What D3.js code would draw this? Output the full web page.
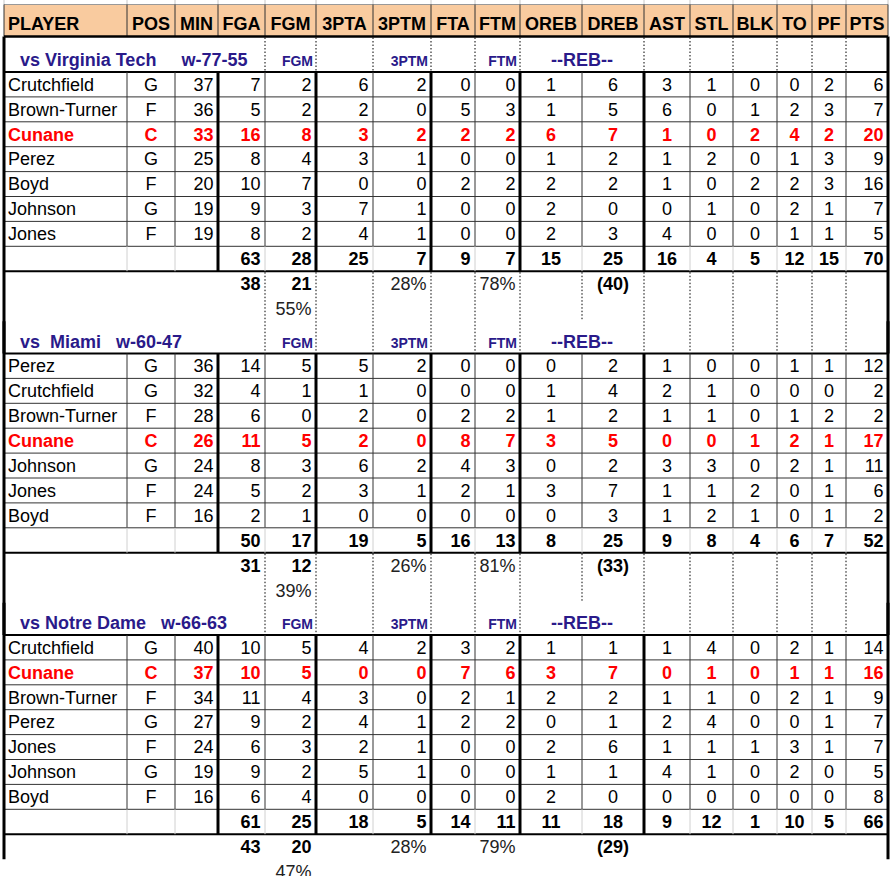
<!DOCTYPE html>
<html>
<head>
<meta charset="utf-8">
<script src="https://cdn.jsdelivr.net/npm/d3@7"></script>
<style>
  body { margin: 0; background: #fff; }
  svg text { font-family: "Liberation Sans", Arial, sans-serif; white-space: pre; }
</style>
</head>
<body>
<div class="container"></div>
<script>
const columns = ["PLAYER", "POS", "MIN", "FGA", "FGM", "3PTA", "3PTM", "FTA", "FTM",
  "OREB", "DREB", "AST", "STL", "BLK", "TO", "PF", "PTS"];
const gameTitles = ["vs Virginia Tech     w-77-55", "vs  Miami   w-60-47", "vs Notre Dame   w-66-63"];
const highlight = "Cunane";

const vtRows = [
  ["Crutchfield", "G", 37, 7, 2, 6, 2, 0, 0, 1, 6, 3, 1, 0, 0, 2, 6],
  ["Brown-Turner", "F", 36, 5, 2, 2, 0, 5, 3, 1, 5, 6, 0, 1, 2, 3, 7],
  ["Cunane", "C", 33, 16, 8, 3, 2, 2, 2, 6, 7, 1, 0, 2, 4, 2, 20],
  ["Perez", "G", 25, 8, 4, 3, 1, 0, 0, 1, 2, 1, 2, 0, 1, 3, 9],
  ["Boyd", "F", 20, 10, 7, 0, 0, 2, 2, 2, 2, 1, 0, 2, 2, 3, 16],
  ["Johnson", "G", 19, 9, 3, 7, 1, 0, 0, 2, 0, 0, 1, 0, 2, 1, 7],
  ["Jones", "F", 19, 8, 2, 4, 1, 0, 0, 2, 3, 4, 0, 0, 1, 1, 5]
];
const vtTotals = [63, 28, 25, 7, 9, 7, 15, 25, 16, 4, 5, 12, 15, 70];
const vtSummary = ["38", "21", "28%", "78%", "(40)", "55%"];

const miaRows = [
  ["Perez", "G", 36, 14, 5, 5, 2, 0, 0, 0, 2, 1, 0, 0, 1, 1, 12],
  ["Crutchfield", "G", 32, 4, 1, 1, 0, 0, 0, 1, 4, 2, 1, 0, 0, 0, 2],
  ["Brown-Turner", "F", 28, 6, 0, 2, 0, 2, 2, 1, 2, 1, 1, 0, 1, 2, 2],
  ["Cunane", "C", 26, 11, 5, 2, 0, 8, 7, 3, 5, 0, 0, 1, 2, 1, 17],
  ["Johnson", "G", 24, 8, 3, 6, 2, 4, 3, 0, 2, 3, 3, 0, 2, 1, 11],
  ["Jones", "F", 24, 5, 2, 3, 1, 2, 1, 3, 7, 1, 1, 2, 0, 1, 6],
  ["Boyd", "F", 16, 2, 1, 0, 0, 0, 0, 0, 3, 1, 2, 1, 0, 1, 2]
];
const miaTotals = [50, 17, 19, 5, 16, 13, 8, 25, 9, 8, 4, 6, 7, 52];
const miaSummary = ["31", "12", "26%", "81%", "(33)", "39%"];

const ndRows = [
  ["Crutchfield", "G", 40, 10, 5, 4, 2, 3, 2, 1, 1, 1, 4, 0, 2, 1, 14],
  ["Cunane", "C", 37, 10, 5, 0, 0, 7, 6, 3, 7, 0, 1, 0, 1, 1, 16],
  ["Brown-Turner", "F", 34, 11, 4, 3, 0, 2, 1, 2, 2, 1, 1, 0, 2, 1, 9],
  ["Perez", "G", 27, 9, 2, 4, 1, 2, 2, 0, 1, 2, 4, 0, 0, 1, 7],
  ["Jones", "F", 24, 6, 3, 2, 1, 0, 0, 2, 6, 1, 1, 1, 3, 1, 7],
  ["Johnson", "G", 19, 9, 2, 5, 1, 0, 0, 1, 1, 4, 1, 0, 2, 0, 5],
  ["Boyd", "F", 16, 6, 4, 0, 0, 0, 0, 2, 0, 0, 0, 0, 0, 0, 8]
];
const ndTotals = [61, 25, 18, 5, 14, 11, 11, 18, 9, 12, 1, 10, 5, 66];
const ndSummary = ["43", "20", "28%", "79%", "(29)", "47%"];

const games = [
  { title: gameTitles[0], rows: vtRows, totals: vtTotals, summary: vtSummary },
  { title: gameTitles[1], rows: miaRows, totals: miaTotals, summary: miaSummary },
  { title: gameTitles[2], rows: ndRows, totals: ndTotals, summary: ndSummary }
];

// layout
const width = 894;
const height = 876;
const edges = [4, 127, 175, 218, 265, 316, 373, 431, 475, 520, 582, 644, 690, 733, 777, 812, 846, 888];
const thickEdges = [218, 316, 431, 520, 644];
const dottedEdges = [265, 316, 373, 431, 475, 520, 644, 690, 733, 777, 812, 846];
const aligns = ["left", "middle", "right", "right", "right", "right", "right", "right", "right",
  "middle", "middle", "middle", "middle", "middle", "middle", "middle", "right"];
const rowH = 24.9;
const headerTop = 4.5;
const headerBottom = 36.5;
const titleColor = "#2a1a8a";

const xLeft = d3.scaleOrdinal(columns, edges.slice(0, -1));
const xRight = d3.scaleOrdinal(columns, edges.slice(1));
const align = d3.scaleOrdinal(columns, aligns);
const sectionY = d3.scaleLinear().domain([0, 1]).range([72, 353.5]);
const rowY = d3.scaleLinear().domain([0, 1]).range([0, rowH]);

const textX = (col) => {
  const a = align(col);
  if (a === "left") return xLeft(col) + 4;
  if (a === "middle") return (xLeft(col) + xRight(col)) / 2;
  return xRight(col) - 4.5;
};
const anchor = (col) => (align(col) === "left" ? "start" : align(col) === "middle" ? "middle" : "end");

const svg = d3
  .select(".container")
  .append("svg")
  .attr("width", width)
  .attr("height", height);

const bg = svg.append("g");
const txt = svg.append("g");
const lines = svg.append("g");

const line = (x1, y1, x2, y2, color, w, dash) => {
  lines.append("line")
    .attr("x1", x1).attr("y1", y1).attr("x2", x2).attr("y2", y2)
    .attr("stroke", color).attr("stroke-width", w)
    .attr("stroke-dasharray", dash || null);
};

// spreadsheet gridlines above the header
edges.forEach((x) => line(x, 0, x, headerTop, "#c8c8c8", 1));

// header
bg.append("rect")
  .attr("x", edges[0]).attr("y", headerTop)
  .attr("width", edges[edges.length - 1] - edges[0]).attr("height", headerBottom - headerTop)
  .attr("fill", "#f9cb9f");

txt.selectAll(".hdr")
  .data(columns)
  .enter()
  .append("text")
  .attr("class", "hdr")
  .attr("x", (d) => (d === "PLAYER" ? textX(d) : (xLeft(d) + xRight(d)) / 2))
  .attr("y", 30)
  .attr("text-anchor", (d) => (d === "PLAYER" ? "start" : "middle"))
  .attr("font-size", 18)
  .attr("font-weight", "bold")
  .attr("fill", "#000")
  .text((d) => d);

line(edges[0], headerTop, edges[edges.length - 1], headerTop, "#999", 1);
edges.forEach((x) => line(x, headerTop, x, headerBottom, "#333", 1));
line(edges[0], headerBottom, edges[edges.length - 1], headerBottom, "#000", 2.5);

games.forEach((game, gi) => {
  const y0 = sectionY(gi);
  const titleTop = gi === 0 ? headerBottom : sectionY(gi - 1) + 8 * rowH + 2 * 25;
  const totalsBottom = y0 + rowY(8);
  const isLast = gi === games.length - 1;
  const sectionEnd = isLast ? totalsBottom + 25 : sectionY(gi + 1);

  // title row
  txt.append("text")
    .attr("x", 20).attr("y", y0 - 6)
    .attr("font-size", 18).attr("font-weight", "bold")
    .attr("fill", titleColor)
    .text(game.title);
  ["FGM", "3PTM", "FTM"].forEach((c) => {
    txt.append("text")
      .attr("x", xRight(c) - 3).attr("y", y0 - 6)
      .attr("text-anchor", "end")
      .attr("font-size", 14).attr("font-weight", "bold")
      .attr("fill", titleColor)
      .text(c);
  });
  txt.append("text")
    .attr("x", xRight("OREB")).attr("y", y0 - 6)
    .attr("text-anchor", "middle")
    .attr("font-size", 18).attr("font-weight", "bold")
    .attr("fill", titleColor)
    .text("--REB--");

  // player rows
  game.rows.forEach((row, ri) => {
    const hi = row[0] === highlight;
    txt.selectAll(null)
      .data(row)
      .enter()
      .append("text")
      .attr("x", (d, j) => textX(columns[j]))
      .attr("y", y0 + rowY(ri + 0.5))
      .attr("dy", "0.35em")
      .attr("text-anchor", (d, j) => anchor(columns[j]))
      .attr("font-size", 18)
      .attr("font-weight", hi ? "bold" : "normal")
      .attr("fill", hi ? "#ff0000" : "#000")
      .text((d) => d);
  });

  // totals row
  const totCols = columns.slice(3);
  txt.selectAll(null)
    .data(game.totals)
    .enter()
    .append("text")
    .attr("x", (d, j) => textX(totCols[j]))
    .attr("y", y0 + rowY(7.5))
    .attr("dy", "0.35em")
    .attr("text-anchor", (d, j) => anchor(totCols[j]))
    .attr("font-size", 18)
    .attr("font-weight", "bold")
    .attr("fill", "#000")
    .text((d) => d);

  // summary rows under the totals
  const sumPlace = [["FGA", 0, true], ["FGM", 0, true], ["3PTM", 0, false], ["FTM", 0, false], ["DREB", 0, true], ["FGM", 1, false]];
  game.summary.forEach((v, k) => {
    const [c, r, bold] = sumPlace[k];
    txt.append("text")
      .attr("x", textX(c))
      .attr("y", totalsBottom + 12.8 + r * 25)
      .attr("dy", "0.35em")
      .attr("text-anchor", anchor(c))
      .attr("font-size", 18)
      .attr("font-weight", bold ? "bold" : "normal")
      .attr("fill", bold ? "#000" : "#222")
      .text(v);
  });

  // horizontal rules
  line(edges[0], y0, edges[edges.length - 1], y0, "#000", 2);
  d3.range(1, 8).forEach((i) => line(edges[0], y0 + rowY(i), edges[edges.length - 1], y0 + rowY(i), "#333", 1));
  line(edges[0], totalsBottom, edges[edges.length - 1], totalsBottom, "#000", 2);

  // vertical rules in the body
  edges.slice(1, -1).forEach((x) => {
    if (thickEdges.includes(x)) {
      line(x, y0, x, totalsBottom, "#000", 3);
    } else {
      line(x, y0, x, y0 + rowY(7), "#333", 1);
      line(x, y0 + rowY(7), x, totalsBottom, "#d0d0d0", 1);
    }
  });

  // dotted rules in the title and summary rows
  if (gi === 0) dottedEdges.forEach((x) => line(x, titleTop + 1, x, y0 - 1, "#000", 1, "1.5,2"));
  if (!isLast) {
    dottedEdges.forEach((x) => line(x, totalsBottom + 1, x, sectionEnd - 1, "#000", 1, "1.5,2"));
    line(582, totalsBottom + 1, 582, totalsBottom + 50, "#000", 1, "1.5,2");
  }

  // outer borders
  line(edges[0], titleTop, edges[0], sectionEnd, "#000", 3);
  line(edges[edges.length - 1], titleTop, edges[edges.length - 1], sectionEnd, "#000", 3);
});
</script>
</body>
</html>
